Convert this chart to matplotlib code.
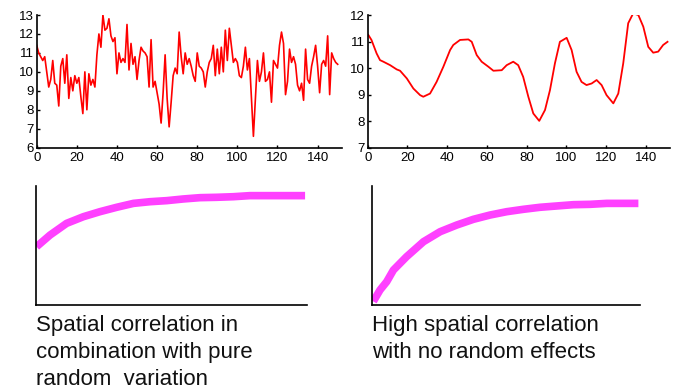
import matplotlib
matplotlib.use("Agg")
import matplotlib.pyplot as plt
import numpy as np

plt.rcParams['font.family'] = ['Liberation Sans', 'DejaVu Sans']

# --- top-left: spatial correlation + pure random variation (151 samples)
noisy_values = [
    11.4, 11.0, 10.8, 10.6, 10.8, 10.0, 9.2, 9.6, 10.6, 9.4,
    9.3, 8.2, 10.3, 10.7, 9.4, 10.9, 8.6, 9.7, 9.0, 9.8,
    9.4, 9.7, 8.7, 7.8, 10.0, 8.0, 9.9, 9.3, 9.6, 9.2,
    10.9, 12.0, 11.3, 13.0, 12.2, 12.3, 12.8, 11.9, 11.6, 11.8,
    9.9, 11.0, 10.5, 10.7, 10.5, 12.5, 10.1, 11.5, 10.4, 10.8,
    9.6, 10.6, 11.3, 11.1, 11.0, 10.8, 9.2, 11.7, 9.2, 9.5,
    8.9, 8.3, 7.3, 8.9, 10.9, 8.6, 7.1, 8.4, 9.8, 10.2,
    9.9, 12.1, 10.8, 9.9, 11.0, 10.4, 10.7, 10.3, 9.8, 9.5,
    11.0, 10.3, 10.2, 10.0, 9.2, 10.0, 10.5, 10.7, 11.4, 9.8,
    11.2, 9.9, 11.3, 10.0, 12.2, 10.6, 12.3, 11.4, 10.5, 10.7,
    10.5, 9.8, 9.7, 10.3, 11.3, 10.1, 10.7, 8.6, 6.6, 8.6,
    10.6, 9.5, 10.0, 11.0, 9.5, 9.6, 10.0, 8.4, 10.6, 10.4,
    10.2, 11.4, 12.1, 11.5, 8.8, 9.5, 11.2, 10.5, 10.8, 10.4,
    9.3, 9.0, 9.4, 8.5, 11.2, 9.6, 9.4, 10.3, 10.8, 11.4,
    10.3, 8.9, 10.4, 10.6, 10.3, 11.9, 8.8, 11.0, 10.7, 10.5,
    10.4,
]
noisy_x = list(range(len(noisy_values)))

# --- top-right: high spatial correlation, no random effects
smooth_x = [0.3, 1.9, 4.5, 6.2, 7.9, 11.3, 14.6, 16.3, 19.7, 23.0, 26.4, 28.0,
            31.4, 34.7, 38.1, 41.5, 43.1, 46.5, 50.7, 52.4, 54.9, 57.4, 60.8,
            63.3, 67.5, 70.0, 73.3, 75.8, 78.3, 80.9, 83.4, 86.4, 89.3, 91.8,
            94.3, 96.8, 100.2, 102.7, 105.2, 107.7, 110.2, 112.8, 115.3, 117.8,
            120.3, 123.7, 126.2, 128.7, 131.2, 133.7, 136.3, 138.8, 141.3,
            143.8, 146.3, 148.8, 151.0]
smooth_values = [11.25, 11.06, 10.55, 10.3, 10.24, 10.11, 9.95, 9.9, 9.61, 9.23,
                 8.98, 8.92, 9.04, 9.48, 10.05, 10.68, 10.87, 11.06, 11.08,
                 10.99, 10.49, 10.24, 10.05, 9.9, 9.92, 10.11, 10.24, 10.11,
                 9.67, 8.92, 8.29, 8.01, 8.42, 9.17, 10.18, 10.99, 11.14, 10.68,
                 9.86, 9.48, 9.36, 9.42, 9.55, 9.36, 8.98, 8.67, 9.04, 10.18,
                 11.69, 12.06, 12.0, 11.56, 10.8, 10.58, 10.62, 10.87, 10.99]

# --- bottom: variogram-like curves (normalized units)
vario1_x = [0.2, 5.2, 11.3, 17.5, 23.6, 29.8, 36.0, 42.1, 48.3, 54.4, 60.6,
            66.7, 72.9, 79.0, 85.2, 91.3, 99.4]
vario1_y = [0.49, 0.588, 0.686, 0.742, 0.784, 0.821, 0.854, 0.868, 0.877,
            0.891, 0.902, 0.905, 0.910, 0.919, 0.919, 0.919, 0.919]

vario2_x = [0.6, 3.1, 5.6, 8.1, 13.0, 19.3, 25.5, 31.7, 37.9, 44.1, 50.3,
            56.5, 62.7, 68.9, 75.2, 81.4, 87.6, 99.4]
vario2_y = [0.03, 0.126, 0.196, 0.294, 0.406, 0.532, 0.616, 0.672, 0.72,
            0.756, 0.784, 0.804, 0.821, 0.832, 0.843, 0.846, 0.854, 0.854]

captions = ["Spatial correlation in\ncombination with pure\nrandom  variation",
            "High spatial correlation\nwith no random effects"]

top_xticks = [0, 20, 40, 60, 80, 100, 120, 140]
left_yticks = [6, 7, 8, 9, 10, 11, 12, 13]
right_yticks = [7, 8, 9, 10, 11, 12]

W, H = 673, 389
fig = plt.figure(figsize=(W / 100, H / 100), dpi=100)

def rect(l, r, t, b):
    return [l / W, 1 - b / H, (r - l) / W, (b - t) / H]

red = '#ff0000'
mag = '#ff40ff'

def style_top(ax, yticks, ylim):
    ax.set_xlim(0, 152)
    ax.set_ylim(*ylim)
    ax.set_xticks(top_xticks)
    ax.set_yticks(yticks)
    for s in ['top', 'right']:
        ax.spines[s].set_visible(False)
    for s in ['left', 'bottom']:
        ax.spines[s].set_linewidth(1.2)
    ax.tick_params(direction='in', length=2.5, width=1, labelsize=9.5, pad=2)
    ax.tick_params(axis='x', pad=3)

ax1 = fig.add_axes(rect(36.7, 341.7, 15, 147.7))
ax1.plot(noisy_x, noisy_values, color=red, lw=1.2)
style_top(ax1, left_yticks, (6, 13))

ax2 = fig.add_axes(rect(367.7, 669.5, 15, 147.7))
ax2.plot(smooth_x, smooth_values, color=red, lw=1.3)
style_top(ax2, right_yticks, (7, 12))

def style_bottom(ax):
    ax.set_xlim(0, 100)
    ax.set_ylim(0, 1)
    ax.set_xticks([])
    ax.set_yticks([])
    for s in ['top', 'right']:
        ax.spines[s].set_visible(False)
    for s in ['left', 'bottom']:
        ax.spines[s].set_linewidth(1.2)

ax3 = fig.add_axes(rect(36, 306.7, 186, 305))
ax3.plot(vario1_x, vario1_y, color=mag, lw=5.5, solid_capstyle='butt')
style_bottom(ax3)

ax4 = fig.add_axes(rect(371.7, 640, 186, 305))
ax4.plot(vario2_x, vario2_y, color=mag, lw=5.5, solid_capstyle='butt')
style_bottom(ax4)

fig.text(36 / W, 1 - 315 / H, captions[0], ha='left', va='top',
         fontsize=16, linespacing=1.36, color='#111111')
fig.text(372 / W, 1 - 315 / H, captions[1], ha='left', va='top',
         fontsize=16, linespacing=1.36, color='#111111')

fig.savefig('out.png', dpi=100)
